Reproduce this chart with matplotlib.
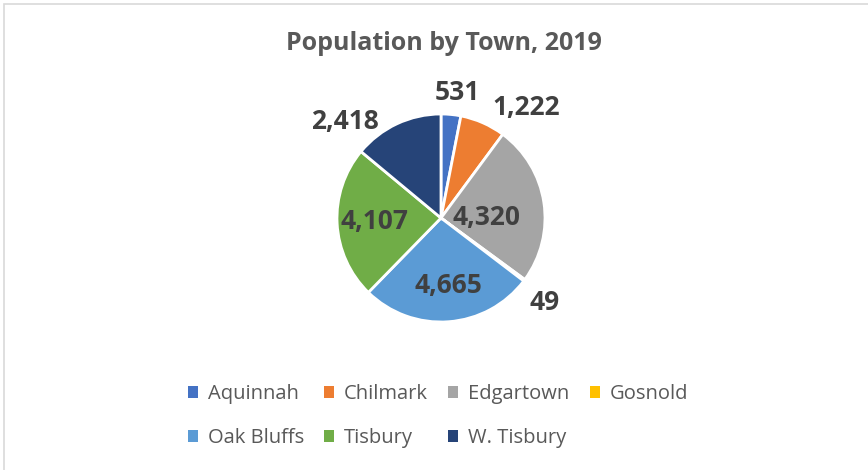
import numpy as np
import matplotlib.pyplot as plt
from matplotlib.patches import Rectangle, Patch

# data
towns = ["Aquinnah", "Chilmark", "Edgartown", "Gosnold", "Oak Bluffs", "Tisbury", "W. Tisbury"]
population = [531, 1222, 4320, 49, 4665, 4107, 2418]
colors = ["#4472C4", "#ED7D31", "#A5A5A5", "#FFC000", "#5B9BD5", "#70AD47", "#264478"]
# value label placement: distance (fraction of radius) and angle shift from slice middle
label_dist = [1.22, 1.34, 0.44, 1.29, 0.65, 0.64, 1.31]
label_shift = [1.7, 13.9, 8.6, 2.5, -1.8, 0, -19.8]

plt.rcParams['font.family'] = ['Open Sans', 'DejaVu Sans']

fig = plt.figure(figsize=(8.68, 4.70), dpi=100)

# chart border
fig.patches.append(Rectangle((4 / 868, -0.1), 1.2, 1 - 4 / 470 + 0.1, transform=fig.transFigure,
                             fill=False, edgecolor="#D9D9D9", linewidth=1.2))

cx, cy, r = 441, 218, 104
w, h = 3 * r / 868, 3 * r / 470
ax = fig.add_axes([cx / 868 - w / 2, 1 - cy / 470 - h / 2, w, h])

wedges, _ = ax.pie(population, colors=colors, startangle=90, counterclock=False,
                   radius=1, wedgeprops=dict(edgecolor="white", linewidth=2))
ax.set_xlim(-1.5, 1.5)
ax.set_ylim(-1.5, 1.5)
ax.set_aspect("equal")
ax.axis("off")

total = sum(population)
cum = np.cumsum([0] + population[:-1])
for v, c0, d, s in zip(population, cum, label_dist, label_shift):
    ang = np.radians(360 * (c0 + v / 2) / total + s)
    ax.text(d * np.sin(ang), d * np.cos(ang), f"{v:,}", ha="center", va="center",
            fontsize=19, fontweight="bold", color="#404040")

fig.text(444 / 868, 1 - 43 / 470, "Population by Town, 2019", ha="center", va="center",
         fontsize=18, fontweight="bold", color="#595959")

# legend filled column-wise, so reorder to get row-wise layout
order = [0, 4, 1, 5, 2, 6, 3]
handles = [Patch(facecolor=colors[i], edgecolor="none") for i in order]
labels = [towns[i] for i in order]
fig.legend(handles, labels, ncol=4, loc="center", bbox_to_anchor=(438 / 868, 1 - 416 / 470),
           frameon=False, fontsize=14.5, labelcolor="#595959", handlelength=0.5, handleheight=0.5,
           handletextpad=0.5, columnspacing=1.0, labelspacing=1.2)

plt.savefig("out.png", dpi=100)
